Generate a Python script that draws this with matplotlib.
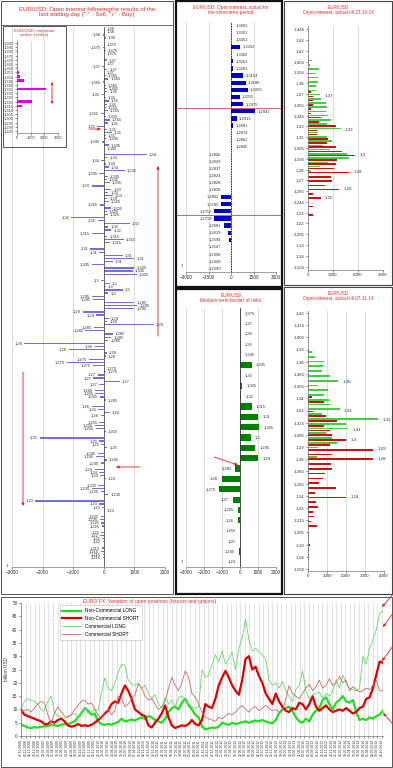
import numpy as np
import pandas as pd
import matplotlib
matplotlib.use('Agg')
import matplotlib.pyplot as plt
from matplotlib.patches import Rectangle

plt.rcParams['font.family'] = ['Liberation Sans', 'DejaVu Sans']

# ---------------- data ----------------
# left panel: open interest after last trading day (strike, contracts; "-" sell, "+" buy)
left_strikes = [
    1.38, 1.38, 1.38, 1.38,
    1.375, 1.375, 1.375, 1.375,
    1.37, 1.37, 1.37, 1.37, 1.37,
    1.365, 1.365, 1.365, 1.365, 1.365,
    1.36, 1.36, 1.36, 1.36, 1.36,
    1.355, 1.355, 1.355, 1.355, 1.355,
    1.35, 1.35, 1.35, 1.35, 1.35,
    1.345, 1.345, 1.345, 1.345,
    1.34, 1.34, 1.34, 1.34, 1.34,
    1.335, 1.335, 1.335, 1.335, 1.335,
    1.33, 1.33, 1.33, 1.33, 1.33,
    1.325, 1.325, 1.325, 1.325, 1.325,
    1.32, 1.32, 1.32, 1.32, 1.32,
    1.315, 1.315, 1.315, 1.315,
    1.31, 1.31, 1.31, 1.31, 1.31,
    1.305, 1.305, 1.305, 1.305,
    1.3, 1.3, 1.3, 1.3, 1.3,
    1.295, 1.295, 1.295, 1.295, 1.295,
    1.29, 1.29, 1.29, 1.29, 1.29,
    1.285, 1.285, 1.285, 1.285, 1.285,
    1.28, 1.28, 1.28, 1.28, 1.28,
    1.275, 1.275, 1.275, 1.275, 1.275,
    1.27, 1.27, 1.27, 1.27,
    1.265, 1.265, 1.265, 1.265,
    1.26, 1.26, 1.26, 1.26,
    1.255, 1.255, 1.255, 1.255,
    1.25, 1.25, 1.25, 1.25,
    1.245, 1.245, 1.245, 1.245,
    1.24, 1.24, 1.24, 1.24,
    1.235, 1.235, 1.235, 1.235,
    1.23, 1.23, 1.23, 1.23,
    1.225, 1.225, 1.225, 1.225,
    1.22, 1.22, 1.22, 1.22,
    1.215, 1.215, 1.215, 1.215,
]
left_oi = [
    20, 40, -30, 60,
    50, -40, 80, 30,
    90, 40, -60, 120, 50,
    60, 150, -40, 80, 100,
    120, -70, 60, 180, 90,
    80, 140, -100, 60, 200,
    150, -220, 90, 260, 70,
    100, -60, 180, 40,
    1400, 120, -80, 60, 160,
    680, -150, 130, 90, 200,
    -400, 250, 150, 300, 120,
    180, -120, 230, 90, 140,
    -1070, -200, 850, 150, 250,
    -380, 120, 650, 200,
    -450, -150, 620, 1000, 300,
    -400, 1000, 950, 1070,
    -100, 200, 80, 620, 150,
    -380, -350, 1000, 1100, 1000,
    -680, -250, 180, 120, 1650,
    -320, -600, 300, 250, 150,
    -2600, -300, -1150, 100, 80,
    -500, -1200, -350, 50, 80,
    -200, -350, 520, -150,
    -300, -280, -120, 60,
    -400, -180, 200, -100,
    -150, -300, -250, 60,
    -2100, -150, -80, 120,
    -200, -250, 100, -90,
    -300, -150, -120, 80,
    -180, -400, -100, 150,
    -2250, -150, -60, 40,
    -100, -140, -80, -60,
    -80, -120, -50, -40,
    -60, -90, -40, -30,
]

# inset: important strikes (series)
inset_labels = ['1,390', '1,385', '1,380', '1,375', '1,370', '1,365', '1,360', '1,355',
                '1,350', '1,345', '1,340', '1,335', '1,330', '1,325', '1,320', '1,315',
                '1,310', '1,305', '1,300', '1,295', '1,290', '1,285']
inset_oi = [0, 0, 0, 0, 0, 0, 100, 150, 250, 500, 0, 2100, 0, 0, 1100, 330,
            0, 0, 0, 0, 0, 0]

# middle top: short-term period
short_strikes = [1.3601, 1.3501, 1.3451, 1.3352, 1.3302, 1.3253, 1.3203, 1.3154, 1.3106,
                 1.3059, 1.3015, 1.2975, 1.2941, 1.2913, 1.2891, 1.2874, 1.2862, 1.2845,
                 1.2840, 1.2829, 1.2837, 1.2824, 1.2828, 1.2818, 1.2802, 1.2780, 1.2752,
                 1.2719, 1.2681, 1.2639, 1.2594, 1.2547, 1.2498, 1.2449, 1.2399]
short_oi = [30, 30, 30, 600, 30, 100, 100, 820, 970, 1100, 580, 800, 1620, 380, 100,
            20, 20, 20, -20, -20, -20, -20, -20, -20, -650, -650, -1130, -1130, -500,
            -170, -120, -30, -30, -30, -30]

# middle bottom: medium-term border of risks
medium_strikes = [1.375, 1.37, 1.36, 1.35, 1.345, 1.335, 1.33, 1.325, 1.32, 1.315, 1.31,
                  1.305, 1.3, 1.295, 1.29, 1.285, 1.28, 1.275, 1.27, 1.265, 1.26, 1.255,
                  1.25, 1.245, 1.24]
medium_oi = [20, 20, 20, 20, 20, 650, 20, 100, 50, 650, 1020, 1070, 590, 830, 1020,
             -280, -1020, -1150, -410, -130, -130, -20, -20, -60, -20]

# right top: open interest till 23.10.14 (calls green, puts red)
oct_strikes = [1.41, 1.405, 1.40, 1.395, 1.39, 1.385, 1.38, 1.375, 1.37, 1.365, 1.36,
               1.355, 1.35, 1.345, 1.34, 1.335, 1.33, 1.325, 1.32, 1.315, 1.31, 1.305,
               1.30, 1.295, 1.29, 1.285, 1.28, 1.275, 1.27, 1.265, 1.26, 1.255, 1.25,
               1.245, 1.24, 1.235, 1.23]
oct_calls = [500, 200, 1350, 950, 1230, 1230, 1000, 950, 1450, 1500, 2150, 2250, 2150,
             2400, 2750, 2250, 3900, 1150, 2300, 2900, 1800, 2600, 4700, 4900, 2450,
             1450, 300, 0, 0, 0, 0, 0, 0, 0, 0, 0, 0]
oct_puts = [0, 0, 0, 0, 0, 0, 0, 300, 600, 600, 600, 350, 400, 1500, 1350, 3300, 1100,
            1100, 2450, 2250, 3400, 4100, 5600, 3500, 3300, 3150, 4900, 2750, 2850, 2050,
            3700, 600, 1500, 0, 550, 0, 600]
oct_marked = [1.37, 1.33, 1.30, 1.28, 1.26, 1.25]
oct_ticklabels = ['1,445', '1,43', '1,42', '1,405', '1,395', '1,38', '1,37', '1,355',
                  '1,345', '1,33', '1,32', '1,305', '1,295', '1,28', '1,27', '1,255',
                  '1,245', '1,23', '1,22', '1,205', '1,19', '1,18', '1,165']

# right bottom: open interest till 07.11.14
nov_strikes = [1.425, 1.42, 1.415, 1.41, 1.405, 1.40, 1.395, 1.39, 1.385, 1.38, 1.375,
               1.37, 1.365, 1.36, 1.355, 1.35, 1.345, 1.34, 1.335, 1.33, 1.325, 1.32,
               1.315, 1.31, 1.305, 1.30, 1.295, 1.29, 1.285, 1.28, 1.275, 1.27, 1.265,
               1.26, 1.255, 1.25, 1.245, 1.24, 1.235, 1.23, 1.225, 1.22, 1.215, 1.21,
               1.205, 1.20, 1.195, 1.19, 1.185, 1.18, 1.175]
nov_calls = [50, 0, 0, 0, 0, 0, 0, 220, 380, 850, 800, 750, 1170, 1600, 530, 1040, 850,
             1130, 1170, 1660, 750, 3680, 1980, 2110, 940, 1280, 1500, 500, 0, 450, 0, 0,
             0, 0, 0, 0, 0, 0, 0, 0, 0, 0, 0, 0, 0, 0, 0, 0, 0, 0, 0]
nov_puts = [0, 0, 0, 0, 0, 0, 0, 0, 0, 0, 0, 0, 0, 0, 0, 0, 230, 850, 0, 280, 940, 1500,
            850, 1150, 1280, 1980, 1150, 3400, 1280, 3430, 1190, 1250, 890, 800, 600, 1470,
            380, 2020, 420, 530, 260, 340, 150, 490, 0, 40, 60, 80, 30, 40, 0]
nov_marked = [1.36, 1.33, 1.32, 1.31, 1.30, 1.29, 1.28, 1.24]
nov_ticklabels = ['1,43', '1,415', '1,405', '1,39', '1,38', '1,365', '1,355', '1,34',
                  '1,33', '1,315', '1,305', '1,29', '1,28', '1,265', '1,255', '1,24',
                  '1,23', '1,215', '1,205', '1,19', '1,18', '1,165']

# bottom: EURO FX open positions, billion USD
nc_long = [4.2, 3.8, 3.2, 3.0, 3.3, 3.2, 3.5, 3.6, 3.8, 4.2, 4.0, 3.8, 4.2, 4.5, 4.3,
           5.0, 5.5, 7.0, 8.5, 10.5, 9.5, 8.0, 8.5, 5.5, 4.5, 4.2, 4.5, 4.3, 4.8, 5.2,
           6.5, 5.5, 5.8, 6.2, 5.8, 6.5, 7.0, 6.5, 7.5, 7.0, 6.0, 5.5, 5.0, 6.5, 9.0,
           10.5, 11.0, 10.0, 12.5, 14.0, 11.5, 10.0, 8.0, 7.0, 3.5, 2.5, 2.8, 3.2, 3.0,
           3.5, 5.0, 4.5, 4.2, 5.0, 4.5, 4.8, 5.2, 5.5, 5.0, 5.5, 5.8, 5.5, 6.0, 5.5,
           5.0, 4.8, 6.0, 8.5, 10.0, 10.5, 11.0, 9.5, 7.0, 5.5, 5.0, 6.5, 5.5, 8.0, 9.5,
           10.5, 13.5, 14.5, 12.0, 10.0, 12.5, 13.5, 15.0, 13.0, 12.5, 13.5, 9.0, 6.0,
           6.5, 6.0, 7.0, 6.5, 7.5, 8.0, 9.5]
nc_short = [10.0, 8.0, 7.5, 7.0, 6.5, 6.0, 5.5, 4.5, 4.5, 5.5, 5.0, 6.0, 6.5, 5.5, 4.0,
            3.5, 3.8, 4.5, 3.8, 4.0, 3.8, 4.2, 5.0, 6.0, 7.0, 8.5, 9.5, 12.0, 13.0, 12.5,
            16.0, 19.0, 17.0, 14.0, 10.0, 9.0, 8.0, 7.5, 4.0, 3.2, 5.0, 6.5, 8.5, 11.5,
            7.0, 4.0, 3.0, 3.5, 4.0, 3.8, 4.5, 6.0, 4.5, 4.0, 6.0, 12.0, 11.0, 10.5, 14.0,
            19.0, 22.0, 24.5, 22.0, 19.0, 17.0, 15.5, 21.0, 29.0, 30.0, 25.0, 26.0, 22.5,
            20.0, 16.0, 14.0, 12.0, 16.0, 13.0, 11.0, 9.5, 9.0, 10.5, 10.0, 12.5, 12.0,
            10.0, 12.0, 15.0, 11.0, 9.5, 10.5, 11.5, 10.0, 9.0, 9.5, 10.0, 9.5, 10.5, 9.5,
            8.5, 9.0, 10.5, 11.0, 14.0, 14.5, 18.0, 23.0, 28.0, 27.5]
c_long = [10.0, 13.0, 14.0, 13.5, 13.0, 12.0, 10.0, 9.5, 13.0, 15.0, 9.0, 7.5, 7.0, 6.5,
          7.5, 8.0, 8.5, 7.0, 9.0, 10.5, 8.5, 9.0, 10.0, 9.5, 16.0, 22.0, 18.0, 17.0,
          20.0, 24.0, 27.0, 26.5, 21.0, 19.5, 19.0, 20.0, 18.0, 19.0, 16.0, 14.0, 15.5,
          12.0, 10.5, 14.5, 12.0, 13.5, 11.0, 14.5, 15.0, 13.0, 12.0, 11.0, 10.5, 11.0,
          25.0, 22.0, 23.0, 27.0, 30.5, 28.0, 32.0, 27.0, 29.0, 31.5, 25.0, 33.0, 37.0,
          44.0, 36.0, 32.0, 33.0, 31.5, 30.5, 29.0, 21.0, 19.0, 20.0, 18.0, 20.5, 17.0,
          15.0, 13.0, 17.5, 19.0, 24.5, 17.0, 14.0, 15.5, 16.0, 16.5, 14.0, 16.0, 15.0,
          17.0, 21.0, 18.0, 23.0, 20.0, 18.0, 17.5, 17.0, 18.0, 30.0, 27.0, 33.0, 36.0,
          40.0, 46.0, 47.0]
c_short = [9.0, 9.5, 10.0, 9.0, 10.5, 12.0, 13.0, 12.5, 8.0, 5.0, 8.5, 11.0, 9.0, 7.5,
           7.0, 8.0, 10.0, 11.5, 13.0, 13.5, 12.0, 12.5, 10.0, 8.0, 6.5, 9.0, 10.0, 8.0,
           9.5, 15.0, 14.0, 11.0, 12.0, 14.0, 15.5, 19.5, 18.0, 15.0, 13.5, 14.0, 12.0,
           10.0, 11.0, 13.0, 18.0, 22.0, 19.0, 17.0, 20.0, 24.5, 22.0, 16.0, 14.5, 12.0,
           9.0, 7.0, 6.5, 6.0, 5.5, 7.0, 6.5, 7.5, 8.5, 8.0, 9.0, 10.5, 11.5, 10.0, 9.0,
           10.5, 11.0, 9.5, 10.5, 11.5, 10.5, 9.5, 10.0, 9.0, 9.5, 14.0, 19.0, 16.0, 15.0,
           14.0, 16.0, 18.0, 19.5, 17.0, 18.5, 21.0, 18.0, 19.0, 21.5, 19.0, 20.0, 22.5,
           20.0, 21.0, 17.0, 18.5, 17.5, 16.5, 17.0, 18.0, 17.5, 19.0, 21.0, 17.0, 17.0]
cot_dates = pd.date_range('2008-10-07', '2014-11-04', periods=len(nc_long))
cot_ticks = pd.date_range('2008-10-07', '2014-11-04', freq='4W-TUE')
cot_ticklabels = [d.strftime('%d.%m.%Y') for d in cot_ticks]

# ---------------- drawing ----------------
W, H = 393, 768
RED_TXT = '#d03030'
fig = plt.figure(figsize=(W / 100, H / 100), dpi=100)


def rect(l, t, r, b):
    return [l / W, 1 - b / H, (r - l) / W, (b - t) / H]


def fmt(s):
    return f"{s:.4f}".rstrip('0').rstrip('.').replace('.', ',')


def style(ax, fs=3.4):
    ax.tick_params(labelsize=fs, length=1.5, width=0.4, pad=1, colors='#333333')
    for sp in ax.spines.values():
        sp.set_color('#777777')
        sp.set_linewidth(0.5)


# left main panel
ax = fig.add_axes(rect(12, 27, 165, 567))
style(ax)
pos = []
seen = {}
for s in left_strikes:
    k = seen.get(s, 0)
    seen[s] = k + 1
    pos.append(s + 0.002 - 0.001 * k)
ax.barh(pos, left_oi, height=0.0004, color='#7070e0')
for p, s, v in zip(pos, left_strikes, left_oi):
    if v >= 0:
        ax.text(v + 60, p, fmt(s), fontsize=3, ha='left', va='center', color='#333333')
    else:
        ax.text(v - 60, p, fmt(s), fontsize=3, ha='right', va='center', color='#333333')
ax.set_xlim(-3000, 2000)
ax.set_ylim(1.211, 1.3825)
ax.set_xticks([-3000, -2000, -1000, 0, 1000, 2000])
ax.set_yticks([])
ax.grid(axis='x', color='#cccccc', lw=0.5)
ax.set_axisbelow(True)
ax.axvline(0, color='#555555', lw=0.6)
for side in ['top', 'right', 'left']:
    ax.spines[side].set_visible(False)

# inset
ai = fig.add_axes(rect(17, 41, 58, 133))
style(ai, 2.8)
yi = np.arange(len(inset_labels))
ai.barh(yi, inset_oi, height=0.6, color='#e000e0')
ai.set_yticks(yi)
ai.set_yticklabels(inset_labels)
ai.set_ylim(len(inset_labels) - 0.5, -0.5)
ai.set_xlim(0, 3000)
ai.set_xticks([0, 1000, 2000, 3000])
ai.grid(axis='x', color='#bbbbbb', lw=0.4)
ai.set_axisbelow(True)
for side in ['top', 'right']:
    ai.spines[side].set_visible(False)

# middle top
am = fig.add_axes(rect(186, 22, 276, 272))
style(am)
ym = np.arange(len(short_strikes))
am.barh(ym, short_oi, height=0.6, color='#0000cc')
for y, s, v in zip(ym, short_strikes, short_oi):
    lab = f"{s:.4f}".replace('.', ',')
    if v > 0:
        am.text(max(v, 150) + 150, y, lab, fontsize=3, ha='left', va='center', color='#333333')
    else:
        am.text(min(v, -500) - 150, y, lab, fontsize=3, ha='right', va='center', color='#333333')
am.set_ylim(len(short_strikes) - 0.5, -0.5)
am.set_xlim(-3000, 3000)
am.set_xticks([-3000, -1500, 0, 1500, 3000])
am.set_yticks([])
am.grid(axis='x', color='#cccccc', lw=0.5)
am.set_axisbelow(True)
am.axvline(0, color='#0000cc', lw=0.6, ls=(0, (2, 1)))
for side in ['top', 'right', 'left']:
    am.spines[side].set_visible(False)
for b in [11.5, 26.5]:
    am.axhline(b, xmin=-0.11, xmax=1.06, color='#c05050', lw=0.6, clip_on=False)

# middle bottom
ab = fig.add_axes(rect(186, 308, 276, 567))
style(ab)
yb = np.arange(len(medium_strikes))
ab.barh(yb, medium_oi, height=0.6, color='#008000')
for y, s, v in zip(yb, medium_strikes, medium_oi):
    if v > 0:
        ab.text(max(v, 0) + 250, y, fmt(s), fontsize=3, ha='left', va='center', color='#333333')
    else:
        ab.text(min(v, 0) - 200, y, fmt(s), fontsize=3, ha='right', va='center', color='#333333')
ab.set_ylim(len(medium_strikes) - 0.5, -0.5)
ab.set_xlim(-3000, 2000)
ab.set_xticks([-3000, -2000, -1000, 0, 1000, 2000])
ab.set_yticks([])
ab.grid(axis='x', color='#cccccc', lw=0.5)
ab.set_axisbelow(True)
ab.axvline(0, color='#333333', lw=0.6)
for side in ['top', 'right', 'left']:
    ab.spines[side].set_visible(False)


def oi_panel(box, strikes, calls, puts, marked, ylim, ticklabels, tickrange, xmax, xticks):
    a = fig.add_axes(rect(*box))
    style(a, 3.2)
    s = np.array(strikes)
    a.barh(s + 0.0011, calls, height=0.0018, color='#44cc44')
    a.barh(s - 0.0011, puts, height=0.0018, color='#cc1111')
    for m in marked:
        i = strikes.index(m)
        a.text(max(calls[i], puts[i]) + xmax * 0.06, m, fmt(m), fontsize=3.2,
               ha='left', va='center', color='#333333')
    a.set_ylim(*ylim)
    a.set_yticks(np.linspace(tickrange[0], tickrange[1], len(ticklabels)))
    a.set_yticklabels(ticklabels)
    a.set_xlim(0, xmax)
    a.set_xticks(xticks)
    a.grid(axis='x', color='#cccccc', lw=0.5)
    a.set_axisbelow(True)
    for side in ['top', 'right']:
        a.spines[side].set_visible(False)
    return a


oi_panel((308, 26, 383, 270), oct_strikes, oct_calls, oct_puts, oct_marked,
         (1.164, 1.452), oct_ticklabels, (1.448, 1.168), 9000, [0, 3000, 6000, 9000])
oi_panel((308, 311, 384, 571), nov_strikes, nov_calls, nov_puts, nov_marked,
         (1.162, 1.434), nov_ticklabels, (1.432, 1.164), 4000, [0, 1000, 2000, 3000, 4000])

# bottom line chart
ac = fig.add_axes(rect(21, 603, 383, 736))
style(ac, 3.4)
ac.plot(cot_dates, nc_long, color='#22dd22', lw=1.6, label='Non-Commercial LONG')
ac.plot(cot_dates, nc_short, color='#e00000', lw=1.6, label='Non-Commercial SHORT')
ac.plot(cot_dates, c_long, color='#66d866', lw=0.6, label='Commercial LONG')
ac.plot(cot_dates, c_short, color='#c86a6a', lw=0.6, label='Commercial SHORT')
ac.set_ylim(0, 50)
ac.set_yticks(range(0, 51, 5))
ac.set_xlim(cot_dates[0], cot_dates[-1])
ac.set_xticks(cot_ticks)
ac.set_xticklabels(cot_ticklabels, rotation=90, fontsize=2.4)
ac.grid(axis='x', color='#cccccc', lw=0.4)
ac.set_ylabel('billion USD', fontsize=3.4, labelpad=2, color='#333333')
for side in ['top', 'right']:
    ac.spines[side].set_visible(False)
leg = ac.legend(loc='upper left', bbox_to_anchor=(0.1, 1.0), fontsize=3.4, frameon=True,
                fancybox=False, handlelength=4, borderpad=0.6, labelspacing=0.6)
leg.get_frame().set_linewidth(0.4)
leg.get_frame().set_edgecolor('#aaaaaa')

# overlay for frames, titles and arrows (pixel coordinates)
ov = fig.add_axes([0, 0, 1, 1], facecolor='none')
ov.set_xlim(0, W)
ov.set_ylim(H, 0)
ov.axis('off')

for (l, t, r, b, lw, c) in [(1, 1, 173, 594, 0.7, '#555555'), (1, 1, 173, 25, 0.6, '#555555'),
                           (3, 26, 66, 147, 0.7, '#555555'),
                           (176, 1, 282, 287, 1.6, '#111111'), (176, 289, 282, 594, 1.6, '#111111'),
                           (284, 1, 392, 285, 0.8, '#444444'), (284, 287, 392, 594, 0.8, '#444444'),
                           (1, 597, 392, 767, 0.7, '#555555')]:
    ov.add_patch(Rectangle((l, t), r - l, b - t, fill=False, lw=lw, edgecolor=c))

ov.text(87, 12, 'EUR/USD: Open interest followingthe results of the\nlast trading day ("-" - Sell, "+" - Buy)',
        fontsize=4.3, color=RED_TXT, ha='center', va='center', linespacing=1.2)
ov.text(34, 33, 'EUR/USD: important\nstrikes (series)', fontsize=3.2, color=RED_TXT,
        ha='center', va='center')
ov.text(231, 10, 'EUR/USD: Open interest, actual for\nthe short-term period', fontsize=3.4,
        color=RED_TXT, ha='center', va='center')
ov.text(231, 298, 'EUR/USD\nMedium-term border of risks', fontsize=3.4, color=RED_TXT,
        ha='center', va='center')
ov.text(338, 10, 'EUR/USD\nOpen interest, actual till 23.10.14', fontsize=3.4, color=RED_TXT,
        ha='center', va='center')
ov.text(338, 296, 'EUR/USD\nOpen interest, actual till 07.11.14', fontsize=3.4, color=RED_TXT,
        ha='center', va='center')
ov.text(150, 601, 'EURO FX: Variation of open positions (futures and options)', fontsize=3.6,
        color=RED_TXT, ha='center', va='center')
for (x, y) in [(7, 566), (182, 266), (182, 562)]:
    ov.text(x, y, '1', fontsize=3.2, color='#333333', ha='center', va='center')

arrows = [((158, 336), (158, 166)), ((23, 372), (23, 506)), ((89, 129), (101, 129)),
          ((140, 467), (116, 467)), ((214, 457), (238, 465)),
          ((395, 592), (382, 607)), ((394, 612), (383, 627)), ((393, 646), (382, 661)),
          ((393, 724), (383, 713))]
for (a0, a1) in arrows:
    ov.annotate('', xy=a1, xytext=a0,
                arrowprops=dict(arrowstyle='-|>', color='#dd2222', lw=0.6, mutation_scale=4,
                                shrinkA=0, shrinkB=0))
ov.annotate('', xy=(52, 82), xytext=(52, 104),
            arrowprops=dict(arrowstyle='<|-|>', color='#dd2222', lw=0.6, mutation_scale=3,
                            shrinkA=0, shrinkB=0))

fig.savefig('out.png', dpi=100)
